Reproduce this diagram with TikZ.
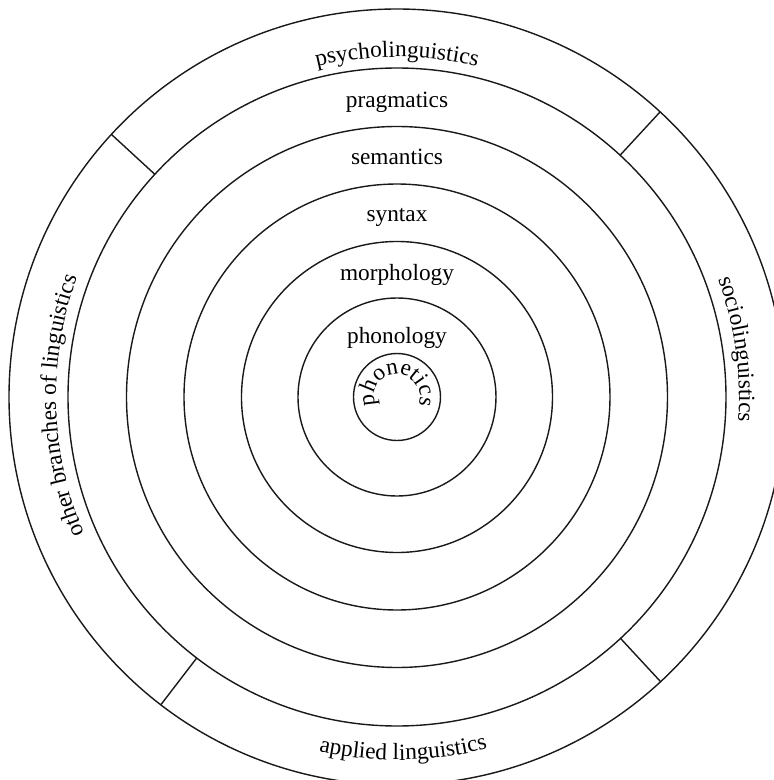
\documentclass[tikz,border=0pt]{standalone}
\usepackage{fontspec}
\setmainfont{Liberation Serif}
\usetikzlibrary{decorations.text}
\newcommand\lblfont{\fontsize{23.3}{28}\selectfont}
\begin{document}
\begin{tikzpicture}[x=1pt,y=1pt,
  ring/.style={line width=1.4pt, draw=black!90},
  lbl/.style={font=\lblfont, inner sep=0pt, anchor=base},
  arclbl/.style={decorate, decoration={text along path, text align=center, text={|\lblfont|#1}}}]
\useasboundingbox (-397,-383) rectangle (377,397);
\clip (-397,-383) rectangle (377,397);
\coordinate (c) at (0,0);
\foreach \r in {43.5,99,155.5,213,270.5,329,388}
  \draw[ring] (c) circle[radius=\r];
\foreach \a in {47.3,137.4,232.5,312.8}
  \draw[ring] (\a:329) -- (\a:388);
\node[lbl] (phonology) at (0,54) {phonology};
\node[lbl] (morphology) at (0,117) {morphology};
\node[lbl] (syntax) at (0,176) {syntax};
\node[lbl] (semantics) at (0,233) {semantics};
\node[lbl] (pragmatics) at (0,289) {pragmatics};
\path[arclbl=phonetics] (200:23) arc[start angle=200, end angle=-20, radius=23];
\path[arclbl=psycholinguistics] (150:340) arc[start angle=150, end angle=30, radius=340];
\path[arclbl=sociolinguistics] (50:342) arc[start angle=50, end angle=-34, radius=342];
\path[arclbl=other branches of linguistics] (225:341) arc[start angle=225, end angle=138, radius=341];
\path[arclbl=applied linguistics] (240:363) arc[start angle=240, end angle=302, radius=363];
\end{tikzpicture}
\end{document}
